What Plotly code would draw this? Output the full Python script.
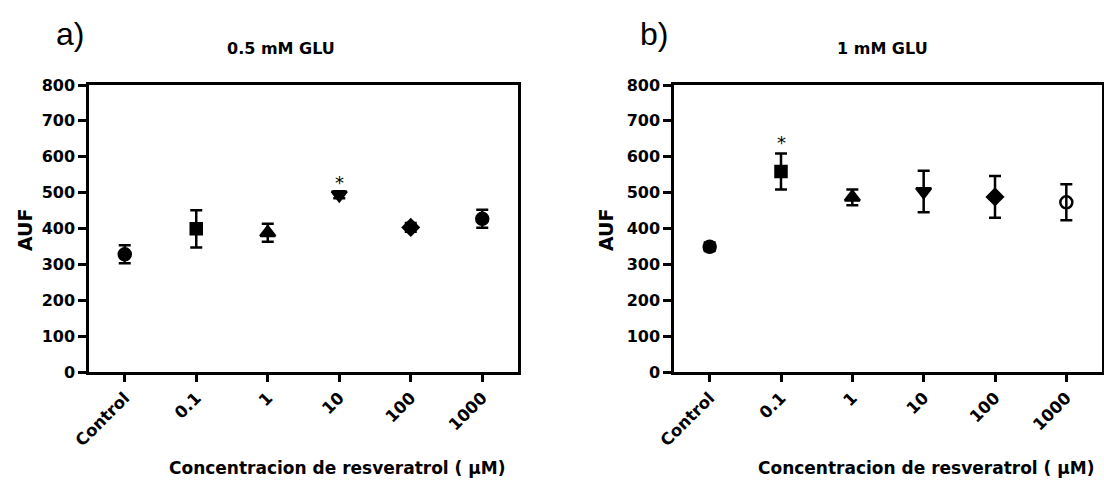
import plotly.graph_objects as go

categories = ["Control", "0.1", "1", "10", "100", "1000"]
glu05_mean = [328, 399, 388, 494, 403, 427]
glu05_sem = [25, 52, 25, 10, 12, 25]
glu1_mean = [349, 559, 487, 503, 488, 473]
glu1_sem = [12, 50, 22, 58, 58, 50]
symbols_a = ["circle", "square", "triangle-up", "triangle-down", "diamond", "circle"]
symbols_b = ["circle", "square", "triangle-up", "triangle-down", "diamond", "circle-open"]
sizes = [12, 11, 13, 13, 12, 12]
yticks = [0, 100, 200, 300, 400, 500, 600, 700, 800]
star_a = ("10", 528)
star_b = ("0.1", 640)

W, H = 1104, 484
FONT = "DejaVu Sans"

fig = go.Figure()

def add_panel(mean, sem, symbols, xa, ya):
    fig.add_trace(go.Scatter(
        x=categories, y=mean, mode="markers", xaxis=xa, yaxis=ya,
        marker=dict(symbol=symbols, size=sizes, color="black", opacity=1,
                    line=dict(color="black", width=2.5)),
        error_y=dict(type="data", array=sem, visible=True, color="black",
                     thickness=2.5, width=6),
        showlegend=False, hoverinfo="x+y"))

add_panel(glu05_mean, glu05_sem, symbols_a, "x", "y")
add_panel(glu1_mean, glu1_sem, symbols_b, "x2", "y2")

ydom = [1 - 372 / H, 1 - 85 / H]

def xaxis(dom, anchor):
    return dict(domain=dom, anchor=anchor, type="category", categoryorder="array",
                categoryarray=categories, range=[-0.5, 5.5], automargin=False,
                showline=True, linecolor="black", linewidth=2.5, mirror=True,
                ticks="outside", ticklen=7, tickwidth=2.5, tickcolor="black",
                tickangle=-45, showgrid=False, zeroline=False,
                tickfont=dict(family=FONT, size=16.5, color="black", weight="bold"))

def yaxis(anchor):
    return dict(domain=ydom, anchor=anchor, range=[0, 800], tickvals=yticks,
                automargin=False,
                showline=True, linecolor="black", linewidth=2.5, mirror=True,
                ticks="outside", ticklen=8, tickwidth=2.5, tickcolor="black",
                showgrid=False, zeroline=False,
                tickfont=dict(family=FONT, size=16, color="black", weight="bold"))

fig.update_layout(
    width=W, height=H,
    margin=dict(l=0, r=0, t=0, b=0, autoexpand=False),
    paper_bgcolor="white", plot_bgcolor="white",
    xaxis=xaxis([89 / W, 518 / W], "y"),
    yaxis=yaxis("x"),
    xaxis2=xaxis([674 / W, 1102 / W], "y2"),
    yaxis2=yaxis("x2"),
)

ann = []
def pann(text, x, y, size, bold=True, family=FONT, angle=0):
    ann.append(dict(text=text, x=x / W, y=1 - y / H, xref="paper", yref="paper",
                    showarrow=False, xanchor="center", yanchor="middle", textangle=angle,
                    font=dict(family=family, size=size, color="black",
                              weight="bold" if bold else "normal")))

pann("a)", 70, 34, 32, bold=False, family="Liberation Sans")
pann("b)", 654, 34, 32, bold=False, family="Liberation Sans")
pann("0.5 mM GLU", 281, 48, 16)
pann("1 mM GLU", 882, 48, 16)
pann("AUF", 25, 230, 19, angle=-90)
pann("AUF", 606, 230, 19, angle=-90)
pann("Concentracion de resveratrol ( \u03bcM)", 337, 468, 17)
pann("Concentracion de resveratrol ( \u03bcM)", 926, 468, 17)

for (cat, cy), xr, yr in [(star_a, "x", "y"), (star_b, "x2", "y2")]:
    ann.append(dict(text="*", x=categories.index(cat), y=cy, xref=xr, yref=yr,
                    showarrow=False, xanchor="center", yanchor="middle",
                    font=dict(family=FONT, size=18, color="black")))

fig.update_layout(annotations=ann)
fig.write_html("out.html", config={"displayModeBar": False},
               post_script="document.body.style.margin='0';document.body.style.overflow='hidden';")
